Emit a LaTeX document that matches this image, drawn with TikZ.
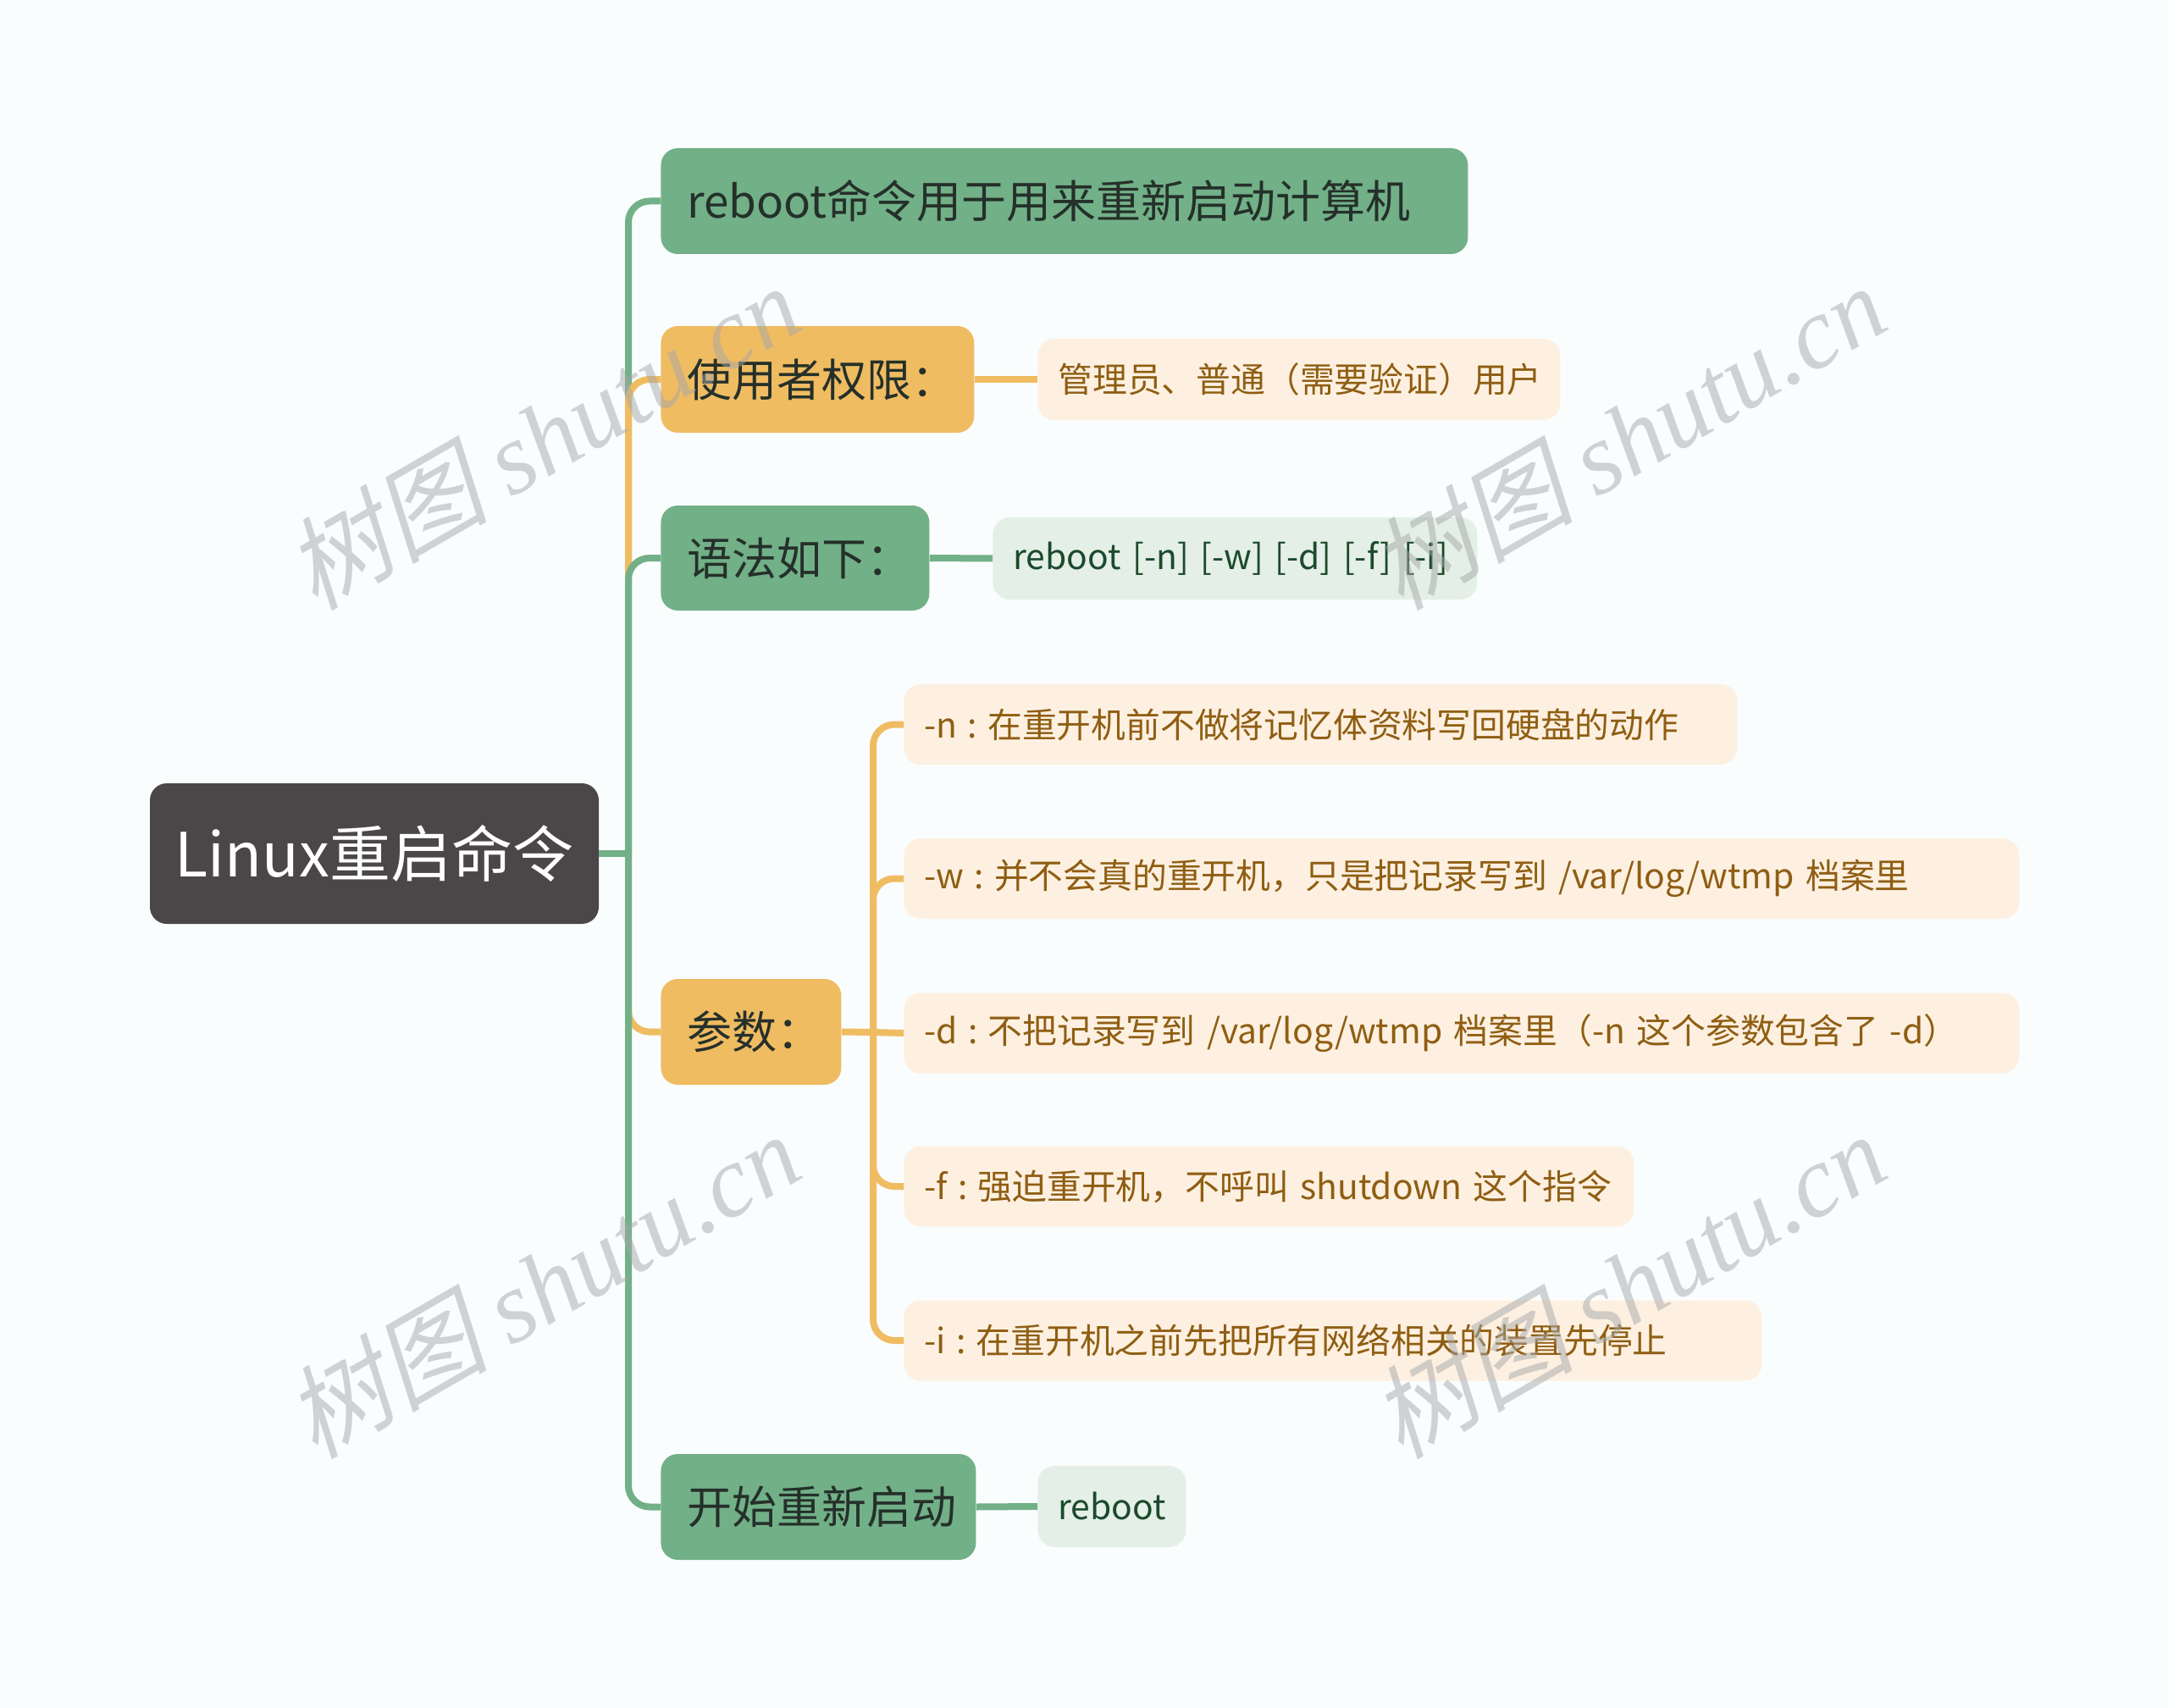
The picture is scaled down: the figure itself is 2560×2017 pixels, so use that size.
\documentclass[tikz,border=0pt]{standalone}
\usepackage{fontspec}
\setmainfont{Noto Sans CJK SC}
\newfontfamily\wmcjk[FakeSlant=0.22]{Noto Sans CJK SC}
\newfontfamily\wmlat{Liberation Serif}
\definecolor{bgc}{HTML}{FAFDFD}
\definecolor{rootc}{HTML}{4B4647}
\definecolor{grn}{HTML}{72B088}
\definecolor{org}{HTML}{F0BC62}
\definecolor{peach}{HTML}{FDF0E1}
\definecolor{lgrn}{HTML}{E4EFE7}
\definecolor{dtext}{HTML}{25302A}
\definecolor{btext}{HTML}{8F5E12}
\definecolor{gtext}{HTML}{1C4A2B}
\definecolor{wmc}{HTML}{A4A8A8}
\newcommand\cs{\hspace{0.3em}:\hspace{0.3em}}
\tikzset{
  base/.style={draw=none, rounded corners=10pt, anchor=west, align=left, inner ysep=0pt},
  lone/.style={base, font=\fontsize{26.5}{30}\selectfont, text=dtext, inner xsep=15.5pt, minimum height=62.5pt},
  ltwo/.style={base, font=\fontsize{20.4}{24}\selectfont, inner xsep=12pt, minimum height=47.5pt},
  gone/.style={lone, fill=grn},
  oone/.style={lone, fill=org},
  otwo/.style={ltwo, fill=peach, text=btext},
  gtwo/.style={ltwo, fill=lgrn, text=gtext},
  gconn/.style={draw=grn, line width=4pt, rounded corners=12.5pt},
  oconn/.style={draw=org, line width=4pt, rounded corners=12.5pt},
  wm/.style={text=wmc, opacity=0.5, rotate=30, font=\fontsize{60}{70}\selectfont}
}
\begin{document}
\begin{tikzpicture}[x=0.5pt, y=-0.5pt]
\fill[bgc] (0,0) rectangle (2560,2017);
\useasboundingbox (0,0) rectangle (2560,2017);

% root
\node[fill=rootc, rounded corners=10pt, minimum width=265pt, minimum height=83pt, inner sep=0pt,
      text=white, font=\fontsize{36}{40}\selectfont] (root) at (442,1008) {Linux重启命令};

% level one
\node[gone, text width=445.5pt] (n1) at (780,237.5) {reboot命令用于用来重新启动计算机};
\node[oone, text width=154pt, minimum height=63pt] (n2) at (780,448) {使用者权限：};
\node[gone, text width=127.5pt, minimum height=62pt] (n3) at (780,659) {语法如下：};
\node[oone, text width=75.5pt] (n4) at (780,1218.5) {参数：};
\node[gone, text width=155pt] (n5) at (780,1779.5) {开始重新启动};

% level two
\node[otwo, text width=284.5pt, minimum height=48pt] (n2c) at (1225,448) {管理员、普通（需要验证）用户};
\node[gtwo, text width=262pt, minimum height=48.5pt] (n3c) at (1172,659.5) {reboot [-n] [-w] [-d] [-f] [-i]};
\node[otwo, text width=468pt] (p1) at (1067,855.5) {-n\cs 在重开机前不做将记忆体资料写回硬盘的动作};
\node[otwo, text width=634.5pt] (p2) at (1067,1037.5) {-w\cs 并不会真的重开机，只是把记录写到 /var/log/wtmp 档案里};
\node[otwo, text width=634.5pt] (p3) at (1067,1220) {-d\cs 不把记录写到 /var/log/wtmp 档案里（-n 这个参数包含了 -d）};
\node[otwo, text width=407pt] (p4) at (1067,1401) {-f\cs 强迫重开机，不呼叫 shutdown 这个指令};
\node[otwo, text width=482.5pt] (p5) at (1067,1583) {-i\cs 在重开机之前先把所有网络相关的装置先停止};
\node[gtwo, text width=63.5pt, minimum height=48pt] (n5c) at (1225,1779) {reboot};

% connectors
\coordinate (J) at (742,1008);
\coordinate (K) at (1031,1219);
\draw[gconn] (root.east) -- (J);
\draw[gconn] (J) |- (n1.west);
\draw[oconn] (J) |- (n2.west);
\draw[gconn] (J) |- (n3.west);
\draw[oconn] (J) |- (n4.west);
\draw[gconn] (J) |- (n5.west);

\draw[oconn] (n2.east) -- (n2c.west);
\draw[gconn] (n3.east) -- (n3c.west);
\draw[gconn] (n5.east) -- (n5c.west);

\draw[oconn] (n4.east) -- (K);
\draw[oconn] (K) |- (p1.west);
\draw[oconn] (K) |- (p2.west);
\draw[oconn] (K) -- (p3.west);
\draw[oconn] (K) |- (p4.west);
\draw[oconn] (K) |- (p5.west);

% watermarks
\node[wm] (w1) at (640,515) {{\wmcjk 树图} {\wmlat\itshape shutu.cn}};
\node[wm] (w2) at (1922,515) {{\wmcjk 树图} {\wmlat\itshape shutu.cn}};
\node[wm] (w3) at (640,1517) {{\wmcjk 树图} {\wmlat\itshape shutu.cn}};
\node[wm] (w4) at (1922,1517) {{\wmcjk 树图} {\wmlat\itshape shutu.cn}};
\end{tikzpicture}
\end{document}
